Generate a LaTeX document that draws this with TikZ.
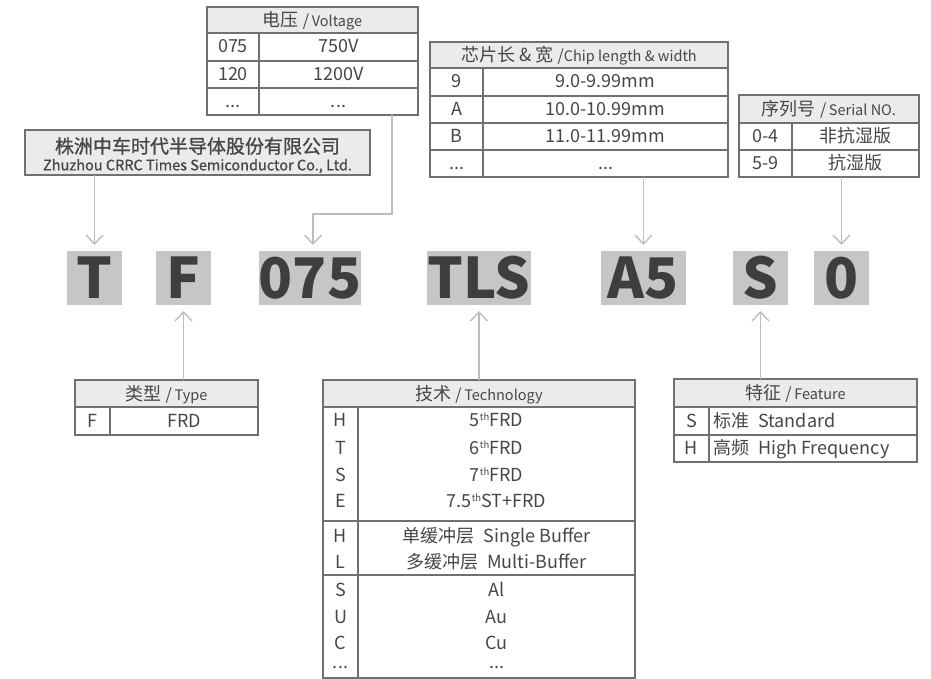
\documentclass[tikz,border=0pt]{standalone}
\usepackage{fontspec}
\setmainfont{Noto Sans CJK SC}
\newfontfamily\semib{Noto Sans CJK SC}[FakeBold=0.9]
\usetikzlibrary{arrows.meta}
\definecolor{bd}{HTML}{707070}
\definecolor{hf}{HTML}{EBEBEB}
\definecolor{tx}{HTML}{464646}
\definecolor{bx}{HTML}{C6C6C6}
\definecolor{bl}{HTML}{3E3E3E}
\definecolor{ar}{HTML}{BDBDBD}
\newcommand\fsz[1]{\fontsize{#1pt}{#1pt}\selectfont}
\newcommand\thsup{\raisebox{6pt}{\fsz{9.5}th}}
\begin{document}
\begin{tikzpicture}[x=1pt,y=-1pt,
  tline/.style={draw=bd, line width=1.1pt},
  tframe/.style={draw=bd, line width=1.1pt, inner sep=0pt, outer sep=0pt, anchor=north west},
  cell/.style={font=\fsz{18}, text=tx, inner sep=0pt, text height=12pt, text depth=0pt},
  hcell/.style={text=tx, inner sep=0pt, text height=13pt, text depth=0pt},
  code/.style={fill=bx, inner sep=0pt, outer sep=0pt, minimum height=54pt, text=bl, font=\bfseries\fsz{56}},
  arr/.style={draw=ar, line width=1.4pt, -{Straight Barb[length=9pt,width=17pt,line width=1.4pt]}},
]
\useasboundingbox (0,0) rectangle (931,679);

% ---------- Voltage table ----------
\fill[hf] (207,7) rectangle (418,33);
\node[tframe, minimum width=211pt, minimum height=108pt] (volt) at (207,7) {};
\draw[tline] (207,33) -- (418,33) (207,61) -- (418,61) (207,88) -- (418,88) (259,33) -- (259,115);
\node[hcell] (vh) at (312.5,20) {\fsz{18}电压 \fsz{16}/\,\fsz{14.5}Voltage};
\node[cell] (v11) at (233,47) {075};   \node[cell] (v12) at (338.5,47) {750V};
\node[cell] (v21) at (233,74.5) {120}; \node[cell] (v22) at (338.5,74.5) {1200V};
\node[cell] (v31) at (233,101.5) {...}; \node[cell] (v32) at (338.5,101.5) {...};

% ---------- Chip table ----------
\fill[hf] (430,42) rectangle (728,68);
\node[tframe, minimum width=298pt, minimum height=135pt] (chip) at (430,42) {};
\draw[tline] (430,68) -- (728,68) (430,96) -- (728,96) (430,123) -- (728,123) (430,150) -- (728,150) (483,68) -- (483,177);
\node[hcell] (ch) at (579,55) {\fsz{18}芯片长 \& 宽 \fsz{16}/\fsz{14.5}Chip length \& width};
\node[cell] (c11) at (456.5,82) {9};    \node[cell] (c12) at (605.5,82) {9.0-9.99mm};
\node[cell] (c21) at (456.5,109.5) {A}; \node[cell] (c22) at (605.5,109.5) {10.0-10.99mm};
\node[cell] (c31) at (456.5,136.5) {B}; \node[cell] (c32) at (605.5,136.5) {11.0-11.99mm};
\node[cell] (c41) at (456.5,163.5) {...}; \node[cell] (c42) at (605.5,163.5) {...};

% ---------- Serial table ----------
\fill[hf] (739,95) rectangle (919,123);
\node[tframe, minimum width=180pt, minimum height=82pt] (serial) at (739,95) {};
\draw[tline] (739,123) -- (919,123) (739,150) -- (919,150) (792,123) -- (792,177);
\node[hcell] (sh) at (829,109) {\fsz{18}序列号 \fsz{16}/\,\fsz{14.5}Serial NO.};
\node[cell] (s11) at (765.5,136.5) {0-4}; \node[cell] (s12) at (855.5,136.5) {非抗湿版};
\node[cell] (s21) at (765.5,163.5) {5-9}; \node[cell] (s22) at (855.5,163.5) {抗湿版};

% ---------- Company ----------
\node[tframe, fill=hf, minimum width=345pt, minimum height=45pt] (company) at (25,130) {};
\node[text=tx, inner sep=0pt, font=\semib\fsz{19}] (co1) at (197.5,146) {株洲中车时代半导体股份有限公司};
\node[text=tx, inner sep=0pt, font=\semib\fsz{14.5}] (co2) at (197.5,166) {Zhuzhou CRRC Times Semiconductor Co., Ltd.};

% ---------- Code boxes ----------
\node[code, minimum width=55pt]  (cT)   at (94.5,278)  {T};
\node[code, minimum width=55pt]  (cF)   at (183.5,278) {F};
\node[code, minimum width=96pt]  (c075) at (310,278)   {075};
\node[code, minimum width=104pt] (cTLS) at (479,278)   {TLS};
\node[code, minimum width=85pt]  (cA5)  at (643.5,278) {A5};
\node[code, minimum width=55pt]  (cS)   at (760.5,278) {S};
\node[code, minimum width=55pt]  (c0)   at (841.5,278) {0};

% ---------- Type table ----------
\fill[hf] (75,380) rectangle (258,407);
\node[tframe, minimum width=183pt, minimum height=55pt] (type) at (75,380) {};
\draw[tline] (75,407) -- (258,407) (110,407) -- (110,435);
\node[hcell] (th) at (166.5,393.5) {\fsz{18}类型 \fsz{16}/\,\fsz{14.5}Type};
\node[cell] (t11) at (92.5,421) {F}; \node[cell] (t12) at (184,421) {FRD};

% ---------- Technology table ----------
\fill[hf] (323,380) rectangle (635,407);
\node[tframe, minimum width=312pt, minimum height=298pt] (tech) at (323,380) {};
\draw[tline] (323,407) -- (635,407) (323,521) -- (635,521) (323,575) -- (635,575) (358,407) -- (358,678);
\node[hcell] (teh) at (479,393.5) {\fsz{18}技术 \fsz{16}/\,\fsz{14.5}Technology};
\node[cell] (e11) at (340.5,420) {H}; \node[cell] (e12) at (496.5,420) {5\thsup FRD};
\node[cell] (e21) at (340.5,448) {T}; \node[cell] (e22) at (496.5,448) {6\thsup FRD};
\node[cell] (e31) at (340.5,475) {S}; \node[cell] (e32) at (496.5,475) {7\thsup FRD};
\node[cell] (e41) at (340.5,501) {E}; \node[cell] (e42) at (496.5,501) {7.5\thsup ST+FRD};
\node[cell] (e51) at (340.5,536) {H}; \node[cell] (e52) at (496.5,536) {单缓冲层\hspace{9pt}Single Buffer};
\node[cell] (e61) at (340.5,562) {L}; \node[cell] (e62) at (496.5,562) {多缓冲层\hspace{9pt}Multi-Buffer};
\node[cell] (e71) at (340.5,590) {S}; \node[cell] (e72) at (496.5,590) {Al};
\node[cell] (e81) at (340.5,617) {U}; \node[cell] (e82) at (496.5,617) {Au};
\node[cell] (e91) at (340.5,643) {C}; \node[cell] (e92) at (496.5,643) {Cu};
\node[cell] (e01) at (340.5,662) {...}; \node[cell] (e02) at (496.5,662) {...};

% ---------- Feature table ----------
\fill[hf] (674,379) rectangle (917,407);
\node[tframe, minimum width=243pt, minimum height=83pt] (feat) at (674,379) {};
\draw[tline] (674,407) -- (917,407) (674,435) -- (917,435) (709,407) -- (709,462);
\node[hcell] (fh) at (795.5,393) {\fsz{18}特征 \fsz{16}/\,\fsz{14.5}Feature};
\node[cell] (f11) at (691.5,421) {S};   \node[cell, anchor=west] (f12) at (713,421) {标准\hspace{9pt}Standard};
\node[cell] (f21) at (691.5,448.5) {H}; \node[cell, anchor=west] (f22) at (713,448.5) {高频\hspace{9pt}High Frequency};

% ---------- Connectors ----------
\draw[arr] (company.south -| cT) -- ([yshift=6pt]cT.north);
\draw[arr] ([xshift=-26pt]volt.south east) |- ([xshift=3pt,yshift=37pt]c075.north) -- ([xshift=3pt,yshift=6pt]c075.north);
\draw[arr] (chip.south -| cA5) -- ([yshift=6pt]cA5.north);
\draw[arr] (serial.south -| c0) -- ([yshift=6pt]c0.north);
\draw[arr] (type.north -| cF) -- ([yshift=-6pt]cF.south);
\draw[arr] (tech.north -| cTLS) -- ([yshift=-6pt]cTLS.south);
\draw[arr] (feat.north -| cS) -- ([yshift=-6pt]cS.south);
\end{tikzpicture}
\end{document}
